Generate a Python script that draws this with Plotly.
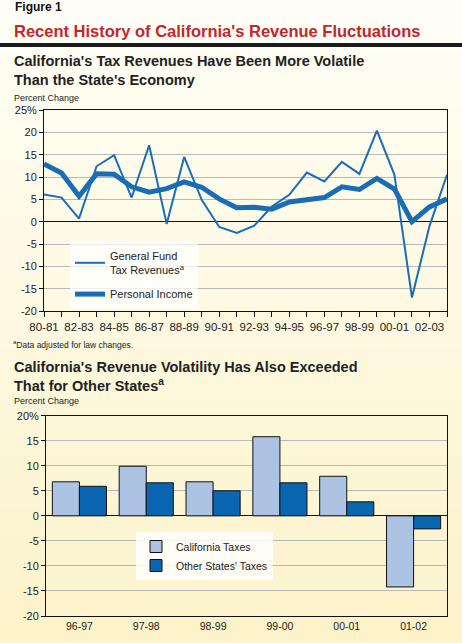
import plotly.graph_objects as go

W, H = 462, 643

# --- top chart: annual percent change ---
years = ["80-81", "81-82", "82-83", "83-84", "84-85", "85-86", "86-87", "87-88",
         "88-89", "89-90", "90-91", "91-92", "92-93", "93-94", "94-95", "95-96",
         "96-97", "97-98", "98-99", "99-00", "00-01", "01-02", "02-03", "03-04"]
gf_tax_revenues = [6.1, 5.4, 0.7, 12.4, 14.9, 5.4, 17.1, -0.5, 14.5, 4.9, -1.2, -2.5,
                   -0.9, 3.4, 6.0, 11.0, 9.0, 13.4, 10.7, 20.4, 10.5, -17.0, -1.0, 10.5]
personal_income = [12.9, 10.9, 5.7, 10.7, 10.6, 7.8, 6.6, 7.4, 8.9, 7.7, 5.1, 3.1,
                   3.2, 2.8, 4.4, 4.9, 5.4, 7.8, 7.2, 9.7, 7.3, 0.0, 3.3, 5.1]
top_yticks = [25, 20, 15, 10, 5, 0, -5, -10, -15, -20]

# --- bottom chart: California vs other states ---
fiscal_years = ["96-97", "97-98", "98-99", "99-00", "00-01", "01-02"]
california_taxes = [6.8, 9.9, 6.8, 15.8, 7.9, -14.2]
other_states_taxes = [5.9, 6.6, 5.0, 6.6, 2.8, -2.6]
bottom_yticks = [20, 15, 10, 5, 0, -5, -10, -15, -20]

FONT = "Liberation Sans, Arial, sans-serif"
TEXT = "#222222"
LINE_BLUE = "#1a6db5"
CA_BLUE = "#adc3e4"
OTHER_BLUE = "#0a66b0"
GRID = "#b9b9b9"


def px_x(x):
    return x / W


def px_y(y):
    return 1 - y / H


def tick_text(vals):
    return [f"{v}%" if i == 0 else str(v) for i, v in enumerate(vals)]


year_idx = list(range(len(years)))  # positions on a linear axis, labelled with years

fig = go.Figure()

fig.add_trace(go.Scatter(
    x=year_idx, y=gf_tax_revenues, mode="lines", name="General Fund<br>Tax Revenues<sup>a</sup>",
    line=dict(color=LINE_BLUE, width=2), xaxis="x", yaxis="y",
    legend="legend", legendgroup="gf",
))
fig.add_trace(go.Scatter(
    x=year_idx, y=personal_income, mode="lines", name="Personal Income",
    line=dict(color=LINE_BLUE, width=5), xaxis="x", yaxis="y",
    legend="legend", legendgroup="pi",
))
fig.add_trace(go.Bar(
    x=fiscal_years, y=california_taxes, name="California Taxes",
    marker=dict(color=CA_BLUE, line=dict(color="#111111", width=1)),
    xaxis="x2", yaxis="y2", legend="legend2",
))
fig.add_trace(go.Bar(
    x=fiscal_years, y=other_states_taxes, name="Other States' Taxes",
    marker=dict(color=OTHER_BLUE, line=dict(color="#111111", width=1)),
    xaxis="x2", yaxis="y2", legend="legend2",
))

axis_common = dict(
    showline=True, mirror=True, linecolor="#111111", linewidth=1,
    tickfont=dict(size=11, color=TEXT), ticks="outside", tickcolor="#111111",
    fixedrange=True, automargin=False, tickangle=0,
)

# soft cream-to-yellow page background
bands = 24
shapes = []
c0, c1 = (255, 254, 246), (252, 243, 202)
for i in range(bands):
    t = i / (bands - 1)
    col = tuple(round(a + (b - a) * t) for a, b in zip(c0, c1))
    shapes.append(dict(
        type="rect", xref="paper", yref="paper", layer="below", line=dict(width=0),
        x0=0, x1=1, y0=1 - (i + 1) / bands, y1=1 - i / bands,
        fillcolor="rgb(%d,%d,%d)" % col,
    ))
# heavy rule under the title
shapes.append(dict(type="rect", xref="paper", yref="paper", line=dict(width=0),
                   x0=0, x1=1, y0=px_y(47), y1=px_y(43), fillcolor="#1a1a1a"))

annotations = [
    dict(text="<b>Figure 1</b>", x=px_x(13), y=px_y(7), font=dict(size=12, color="#111111")),
    dict(text="<b>Recent History of California's Revenue Fluctuations</b>",
         x=px_x(12), y=px_y(31), font=dict(size=16.5, color="#c1272d")),
    dict(text="<b>California's Tax Revenues Have Been More Volatile<br>Than the State's Economy</b>",
         x=px_x(12), y=px_y(70.5), font=dict(size=14.5, color=TEXT)),
    dict(text="Percent Change", x=px_x(12), y=px_y(98.5), font=dict(size=9, color=TEXT)),
    dict(text="<sup>a</sup>Data adjusted for law changes.", x=px_x(11), y=px_y(344),
         font=dict(size=8.5, color=TEXT)),
    dict(text="<b>California's Revenue Volatility Has Also Exceeded<br>That for Other States<sup>a</sup></b>",
         x=px_x(12), y=px_y(376), font=dict(size=14.5, color=TEXT)),
    dict(text="Percent Change", x=px_x(12), y=px_y(401), font=dict(size=9, color=TEXT)),
]
for a in annotations:
    a.update(xref="paper", yref="paper", xanchor="left", yanchor="middle",
             showarrow=False, align="left")
    a["font"]["family"] = FONT

fig.update_layout(
    template="none",
    width=W, height=H,
    margin=dict(l=0, r=0, t=0, b=0, pad=0, autoexpand=False),
    paper_bgcolor="#fdf8e1",
    plot_bgcolor="rgba(0,0,0,0)",
    font=dict(family=FONT, color=TEXT, size=11),
    shapes=shapes,
    annotations=annotations,
    barmode="group", bargap=0.19, bargroupgap=0,
    xaxis=dict(
        domain=[px_x(44), px_x(447)], anchor="y",
        range=[0, len(years) - 1],
        tickmode="array", tickvals=year_idx[::2], ticktext=years[::2],
        ticklen=5, showgrid=False, zeroline=False,
        minor=dict(dtick=1, tick0=0, ticks="outside", ticklen=5, tickcolor="#111111", showgrid=False),
        **{**axis_common, "tickfont": dict(size=11.5, color=TEXT)},
    ),
    yaxis=dict(
        domain=[px_y(311), px_y(110)], anchor="x", range=[-20, 25],
        tickvals=top_yticks, ticktext=tick_text(top_yticks), ticklen=4,
        showgrid=True, gridcolor=GRID, gridwidth=1,
        zeroline=True, zerolinecolor="#111111", zerolinewidth=1, **axis_common,
    ),
    xaxis2=dict(
        domain=[px_x(46), px_x(447)], anchor="y2", type="category",
        showgrid=False, **{**axis_common, "ticks": "", "tickfont": dict(size=10.5, color=TEXT)},
    ),
    yaxis2=dict(
        domain=[px_y(616), px_y(415.7)], anchor="x2", range=[-20, 20],
        tickvals=bottom_yticks, ticktext=tick_text(bottom_yticks), ticklen=4,
        showgrid=True, gridcolor=GRID, gridwidth=1,
        zeroline=True, zerolinecolor="#111111", zerolinewidth=1, **axis_common,
    ),
    legend=dict(
        x=px_x(70), y=px_y(242), xanchor="left", yanchor="top",
        bgcolor="rgba(255,255,255,0.75)", borderwidth=0,
        font=dict(size=11, color=TEXT), tracegroupgap=6,
        traceorder="grouped",
    ),
    legend2=dict(
        x=px_x(136), y=px_y(532), xanchor="left", yanchor="top",
        bgcolor="rgba(255,255,255,0.8)", borderwidth=0,
        font=dict(size=10.5, color=TEXT), traceorder="normal",
    ),
)

# the page's default 8px body margin would push the figure off the window
fig.write_html("out.html", config={"displayModeBar": False},
               post_script="document.body.style.margin = '0';")
